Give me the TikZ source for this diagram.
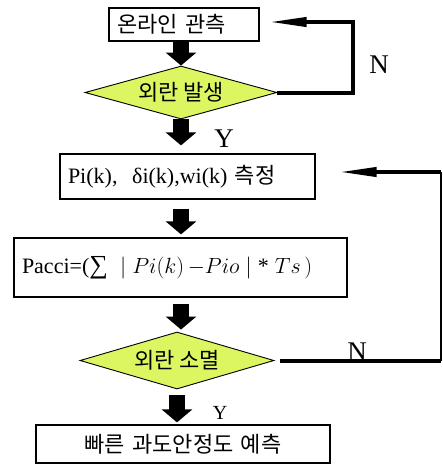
\RequirePackage{fix-cm}
\documentclass[tikz,border=0pt]{standalone}
\usepackage{fontspec}
\setmainfont{Liberation Serif}
\newfontfamily\kr{Noto Sans CJK KR}
\usetikzlibrary{shapes.geometric,arrows.meta}

\definecolor{decisionfill}{RGB}{220,246,98}

\begin{document}
\begin{tikzpicture}[x=1pt,y=-1pt,
  font=\fontsize{22}{26}\selectfont,
  stepbox/.style={draw, line width=1.2pt, rectangle, inner sep=0pt, inner xsep=8pt, align=left},
  decision/.style={draw, line width=0.9pt, diamond, aspect=3.6, fill=decisionfill, inner sep=0pt},
  blockarrow/.style={line width=16pt, -{Triangle[length=13pt,width=30pt]}},
  loopline/.style={line width=4pt},
  looparrow/.style={line width=4pt, -{Triangle[length=38pt,width=9pt]}},
  yn/.style={font=\fontsize{27}{30}\selectfont, inner sep=0pt},
  ynsmall/.style={font=\fontsize{20}{24}\selectfont, inner sep=0pt}
]
\useasboundingbox (0,0) rectangle (443,464);

% process steps and decisions
\node[stepbox, text width=134pt, minimum height=33pt] (b1) at (184,24.5) {\kr 온라인 관측};
\node[decision, minimum width=192pt, minimum height=53pt] (d1) at (181,92.5) {\kr 외란 발생};
\node[stepbox, text width=239pt, minimum height=45pt] (b2) at (187.5,176.5) {Pi(k),~ δi(k),wi(k) {\kr 측정}};
\node[stepbox, text width=317pt, minimum height=59pt] (b3) at (180.5,267.5)
  {Pacci=({\fontsize{26}{26}\selectfont ∑}$\;\;|\;Pi(k)\,{-}Pio\;|\;\textup{*}\;Ts\,)$};
\node[decision, minimum width=194pt, minimum height=57pt] (d2) at (177,360.5) {\kr 외란 소멸};
\node[stepbox, text width=278pt, minimum height=38pt, align=center] (b4) at (183,444) {\kr 빠른 과도안정도 예측};

% main flow
\draw[blockarrow] (b1.south -| d1.north) -- (d1.north);
\draw[blockarrow, shorten >=8pt] (d1.south) -- (d1.south |- b2.north);
\draw[blockarrow, shorten <=9pt, shorten >=3pt] (b2.south -| d1.south) -- (b3.north -| d1.south);
\draw[blockarrow, shorten <=6pt, shorten >=2pt] (b3.south -| d1.south) -- (d2.north -| d1.south);
\draw[blockarrow, shorten <=6pt, shorten >=2pt] (d2.south) -- (d2.south |- b4.north);

% feedback loops
\coordinate (r1) at (353,22);
\draw[looparrow, shorten >=9pt] (d1.east) -| (r1) -- (r1 -| b1.east);

\coordinate (r2) at (441,172);
\draw[loopline, shorten <=6pt] (d2.east) -- (d2.east -| r2);
\draw[line width=1.5pt] (d2.east -| r2) -- (r2);
\draw[looparrow, shorten >=23pt] (r2) -- (r2 -| b2.east);

% branch labels
\node[yn] (n1) at (379,65) {N};
\node[yn] (y1) at (224,139) {Y};
\node[yn, anchor=south] (n2) at (357,361) {N};
\node[ynsmall] (y2) at (220,413) {Y};
\end{tikzpicture}
\end{document}
